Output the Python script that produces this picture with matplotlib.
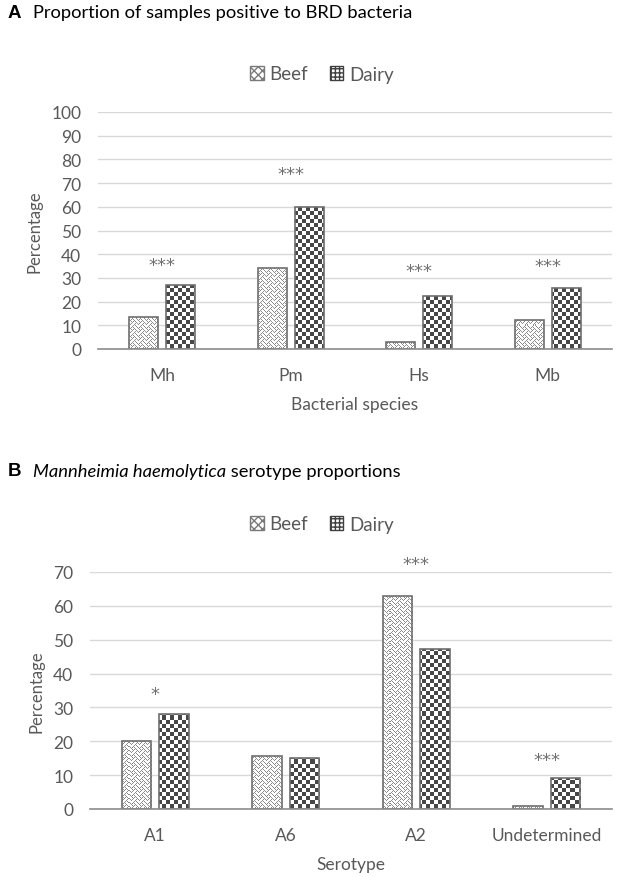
import numpy as np
import matplotlib
matplotlib.use('Agg')
import matplotlib.pyplot as plt
from matplotlib.patches import Patch

# data
species = ['Mh', 'Pm', 'Hs', 'Mb']
species_beef = [13.7, 34.0, 3.1, 12.4]
species_dairy = [27.0, 60.0, 22.2, 25.6]
species_sig = ['***', '***', '***', '***']
species_sig_y = [35.6, 73.8, 33.0, 35.2]

serotypes = ['A1', 'A6', 'A2', 'Undetermined']
sero_beef = [20.0, 15.8, 62.9, 1.0]
sero_dairy = [28.2, 15.2, 47.3, 9.1]
sero_sig = ['*', '', '***', '***']
sero_sig_y = [34.0, 0, 72.3, 14.5]

plt.rcParams['font.family'] = ['Lato', 'DejaVu Sans']
grey_txt = '#595959'
W, H, DPI = 630, 878, 100

fig = plt.figure(figsize=(W / DPI, H / DPI), dpi=DPI)

# texture tiles (Excel-like weave and checkerboard)
weave_bits = [0x88, 0x54, 0x22, 0x45, 0x88, 0x14, 0x22, 0x51]
weave_tile = np.array([[(b >> (7 - k)) & 1 for k in range(8)] for b in weave_bits])


def texture(kind, h, w):
    ii, jj = np.mgrid[0:h, 0:w]
    if kind == 'weave':
        on = weave_tile[ii % 8, jj % 8] == 1
        img = np.where(on, 0.55, 1.0)
    else:
        on = ((ii // 4) + (jj // 4)) % 2 == 0
        img = np.where(on, 0.28, 1.0)
    return np.dstack([img, img, img])


def panel(rect, cats, beef, dairy, sig, sig_y, ymax, xlabel):
    ax = fig.add_axes(rect)
    x = np.arange(len(cats))
    off, bw = 0.145, 0.225
    ax.set_xlim(-0.5, len(cats) - 0.5)
    ax.set_ylim(0, ymax)
    pw = int(round(rect[2] * W))
    ph = int(round(rect[3] * H))
    ext = (-0.5, len(cats) - 0.5, 0, ymax)
    for vals, dx, kind in [(beef, -off, 'weave'), (dairy, off, 'checker')]:
        bars = ax.bar(x + dx, vals, bw, color='white', zorder=2)
        tex = texture(kind, ph, pw)
        for b in bars:
            im = ax.imshow(tex, extent=ext, aspect='auto', interpolation='nearest',
                           origin='upper', zorder=3)
            im.set_clip_path(b)
        ax.bar(x + dx, vals, bw, fill=False, edgecolor='#6e6e6e', linewidth=1.2, zorder=4)
    for xi, s, yv in zip(x, sig, sig_y):
        if s:
            ax.text(xi, yv, s, ha='center', va='center', fontsize=13, color='#707070',
                    family='DejaVu Sans', clip_on=False)
    ax.set_yticks(np.arange(0, ymax + 1, 10))
    ax.set_xticks(x)
    ax.set_xticklabels(cats)
    ax.grid(axis='y', color='#d9d9d9', linewidth=1.0, zorder=0)
    ax.set_axisbelow(True)
    for s in ['top', 'right', 'left']:
        ax.spines[s].set_visible(False)
    ax.spines['bottom'].set_color('#8c8c8c')
    ax.spines['bottom'].set_linewidth(1.2)
    ax.spines['bottom'].set_zorder(5)
    ax.tick_params(axis='y', length=0, pad=12, labelsize=12.5, labelcolor=grey_txt)
    ax.tick_params(axis='x', length=0, pad=13, labelsize=12.5, labelcolor=grey_txt)
    ax.set_ylabel('Percentage', fontsize=12, color=grey_txt, labelpad=6)
    ax.set_xlabel(xlabel, fontsize=12.5, color=grey_txt, labelpad=9)
    return ax


axA = panel([98 / W, 1 - 350 / H, 514 / W, 237 / H], species, species_beef,
            species_dairy, species_sig, species_sig_y, 100, 'Bacterial species')
axB = panel([90 / W, 1 - 810 / H, 522 / W, 237 / H], serotypes, sero_beef,
            sero_dairy, sero_sig, sero_sig_y, 70, 'Serotype')

# titles
fig.text(8 / W, 1 - 13 / H, 'A', fontsize=13.5, fontweight='bold',
         family='Liberation Sans', va='center')
fig.text(33 / W, 1 - 13 / H, 'Proportion of samples positive to BRD bacteria',
         fontsize=13.2, va='center')
fig.text(8 / W, 1 - 472 / H, 'B', fontsize=13.5, fontweight='bold',
         family='Liberation Sans', va='center')
t1 = fig.text(33 / W, 1 - 472 / H, 'Mannheimia haemolytica', fontsize=13.2,
              style='italic', va='center')
axB.annotate(' serotype proportions', xy=(1, 0), xycoords=t1,
             va='bottom', ha='left', fontsize=13.2, annotation_clip=False)

handles = [Patch(facecolor='white', edgecolor='#7a7a7a', hatch='xxxx', label='Beef'),
           Patch(facecolor='white', edgecolor='#404040', hatch='++++', label='Dairy')]
for yc in [75, 525]:
    fig.legend(handles=handles, loc='center', bbox_to_anchor=(322 / W, 1 - yc / H),
               ncol=2, frameon=False, fontsize=13.5, labelcolor=grey_txt,
               handlelength=0.7, handleheight=0.7, handletextpad=0.3,
               columnspacing=1.2)

fig.savefig('out.png', dpi=DPI)
